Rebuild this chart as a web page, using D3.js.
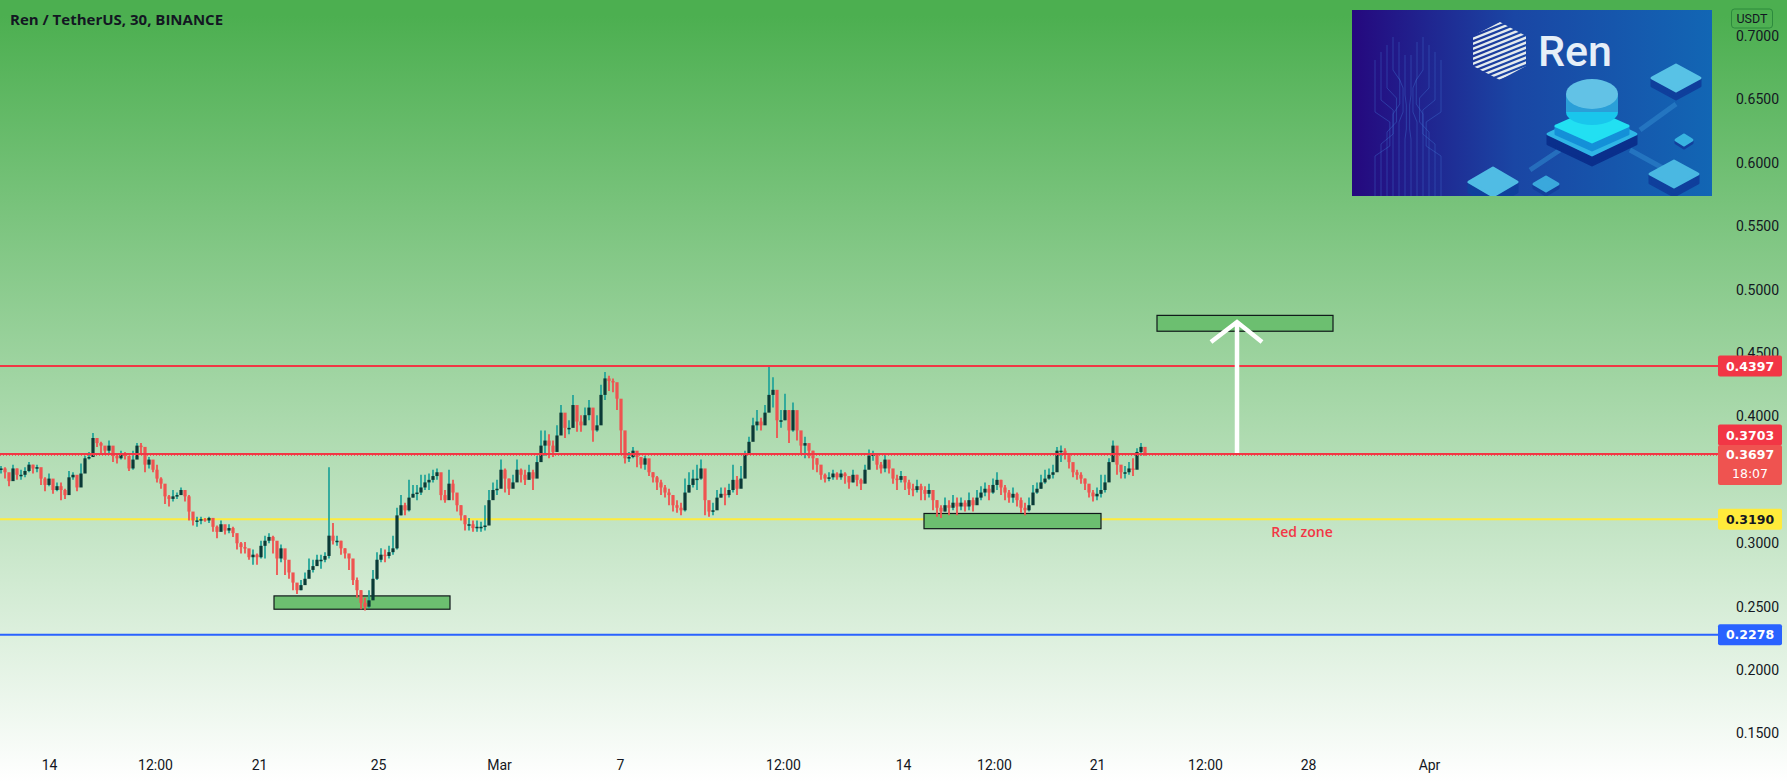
<!DOCTYPE html>
<meta charset="utf-8">
<style type="text/css">
body { margin: 0; background: #fff; }
svg { display: block; }
text { font-family: Roboto, "Noto Sans", Arial, sans-serif; }
.axis text { font-size: 14px; fill: #131722; }
.axis path { display: none; }
.tag { font-family: "DejaVu Sans", sans-serif; font-size: 12.5px; font-weight: bold; text-anchor: middle; }
.label { font-family: "Open Sans", sans-serif; }
</style>
<body>
<svg id="svg" width="1787" height="782"></svg>
<script src="https://cdn.jsdelivr.net/npm/d3@7"></script>
<script>
// candles, in thousandths of a USDT. Open is the previous close.
const closes = [
  359,356,349,359,354,354,357,362,359,360,351,346,351,342,345,342,338,352,354,344,
  355,367,368,383,379,377,373,377,369,367,371,369,359,366,377,376,362,366,358,351,
  347,337,335,337,338,342,337,325,318,318,319,318,320,313,309,315,310,312,308,300,
  297,296,289,291,289,298,302,305,302,288,296,287,277,269,263,267,272,279,282,287,
  287,290,306,302,302,296,292,288,271,263,253,250,255,272,287,291,290,293,296,322,
  330,326,336,339,340,344,348,350,353,356,338,334,347,340,330,322,315,315,312,313,
  313,314,334,342,343,358,351,343,348,358,354,350,356,351,364,377,381,377,372,385,
  403,391,391,409,396,393,401,407,389,393,417,430,428,427,414,389,367,368,373,368,
  362,367,356,352,348,344,340,338,330,328,326,340,346,351,351,359,334,325,326,336,
  339,338,342,350,343,351,370,380,393,396,393,403,417,421,397,397,405,389,405,389,
  377,379,373,367,362,354,351,352,355,352,355,353,348,354,350,347,358,369,370,362,
  359,366,359,351,350,353,348,343,342,345,342,339,342,334,328,325,330,328,332,329,
  332,329,334,330,336,340,343,340,346,350,344,340,336,339,334,328,326,330,340,343,
  348,351,354,356,373,373,371,364,356,354,351,347,340,337,339,342,348,364,377,362,
  356,356,359,358,372,376,370];
const highs = [
  361,360,354,362,359,358,360,364,362,362,358,352,355,347,348,348,343,357,356,351,
  363,369,372,387,383,380,376,381,373,371,373,372,366,373,379,379,370,368,360,362,
  352,342,338,342,340,344,342,338,321,321,321,320,321,317,314,318,313,315,313,306,
  301,301,293,295,292,302,306,308,306,298,299,291,283,275,267,271,277,288,287,291,
  291,293,360,316,306,302,296,291,283,273,263,257,263,279,293,296,295,298,306,328,
  338,332,350,346,346,354,354,355,358,359,350,342,358,350,338,330,322,320,318,318,
  317,330,342,348,350,366,359,351,354,366,359,358,362,358,369,389,389,386,381,393,
  409,401,397,417,407,401,407,413,396,401,425,435,432,430,419,397,371,372,376,372,
  367,369,362,356,353,350,346,343,338,334,332,351,356,358,362,366,354,330,332,342,
  344,344,347,362,353,361,373,384,399,405,399,409,439,431,409,405,418,405,411,396,
  381,384,377,373,367,360,355,356,358,356,358,356,352,358,354,351,362,374,373,367,
  364,370,364,355,354,357,353,350,347,350,347,345,347,340,334,330,336,334,338,336,
  336,334,340,336,342,345,348,346,351,356,350,346,342,344,340,336,332,336,346,348,
  354,358,359,362,376,377,375,369,362,358,356,351,346,342,344,354,354,367,381,367,
  361,361,364,367,375,379,372];
const lows = [
  355,351,345,352,350,350,352,356,355,356,346,341,345,339,341,334,335,338,350,341,
  349,362,366,376,376,371,371,371,364,363,366,366,357,358,370,370,356,359,356,348,
  343,331,329,333,335,338,333,318,314,313,315,317,316,309,304,312,307,308,305,295,
  292,292,287,283,283,288,288,300,292,275,285,275,272,263,260,263,268,275,277,282,
  280,285,288,299,298,291,288,279,267,257,248,247,249,259,271,285,285,288,291,295,
  322,322,325,336,334,338,342,342,348,350,334,332,342,334,325,318,310,310,309,309,
  309,310,326,336,338,348,340,338,344,350,348,346,351,342,354,367,369,367,368,377,
  389,383,386,397,388,388,393,397,380,388,405,413,420,419,405,371,363,364,367,360,
  359,358,353,348,342,338,336,330,325,324,322,325,340,344,342,350,322,321,322,328,
  336,330,336,340,338,344,358,373,381,389,389,396,409,407,383,391,397,379,388,381,
  371,367,367,358,356,350,348,349,350,350,350,347,343,348,345,342,348,362,365,358,
  355,356,355,347,342,348,342,338,337,340,334,334,336,326,321,320,325,322,326,322,
  326,325,326,325,331,334,337,334,339,342,338,334,332,332,329,324,322,325,334,339,
  343,347,350,351,358,364,366,359,352,350,347,342,336,333,334,336,340,351,367,354,
  351,351,354,353,364,369,369];

const priceTicks = [0.15, 0.2, 0.25, 0.3, 0.35, 0.4, 0.45, 0.5, 0.55, 0.6, 0.65, 0.7];
// time labels and the bar they sit under
const timeLabels = ["14", "12:00", "21", "25", "Mar", "7", "12:00", "14", "12:00", "21", "12:00", "28", "Apr"];
const timeBars = [12, 38.5, 64.5, 94.25, 124.5, 154.75, 195.5, 225.5, 248.25, 274, 301, 326.75, 357];

const levelPrices = [0.4397, 0.3703, 0.319, 0.2278];
const levelColors = ["#f23645", "#f23645", "#ffeb3b", "#2962ff"];
const lastPrice = 0.3697;

// green boxes: first bar, last bar, top price, bottom price
const boxBars = [[68.25, 112.25], [230.75, 275], [289, 333]];
const boxPrices = [[0.2585, 0.2480], [0.3235, 0.3115], [0.4797, 0.4672]];

const svg = d3.select("#svg");
const width = 1787, height = 782, paneRight = 1718;

const x = d3.scaleLinear().domain([0, 440]).range([1, 1761]);
const y = d3.scaleLinear().domain([0.15, 0.7]).range([733.5, 36]);

const defs = svg.append("defs");
const bg = defs.append("linearGradient").attr("id", "bg").attr("x1", 0).attr("x2", 0).attr("y1", 0).attr("y2", 1);
bg.append("stop").attr("offset", 0.02).attr("stop-color", "#4caf50");
bg.append("stop").attr("offset", 1).attr("stop-color", "#ffffff");
svg.append("rect").attr("width", width).attr("height", height).attr("fill", "url(#bg)");

function drawLevels(list) {
  svg.selectAll(".level" + list[0]).data(list).enter().append("line")
    .attr("x1", 0).attr("x2", paneRight)
    .attr("y1", i => y(levelPrices[i])).attr("y2", i => y(levelPrices[i]))
    .attr("stroke", i => levelColors[i])
    .attr("stroke-width", 2);
}

// yellow and blue sit under the boxes, the red ones on top of the candles
drawLevels([2, 3]);

svg.selectAll(".box").data(boxBars).enter().append("rect")
  .attr("class", "box")
  .attr("x", d => x(d[0]))
  .attr("width", d => x(d[1]) - x(d[0]))
  .attr("y", (d, i) => y(boxPrices[i][0]))
  .attr("height", (d, i) => y(boxPrices[i][1]) - y(boxPrices[i][0]))
  .attr("fill", "#6cbf70")
  .attr("stroke", "#10181a")
  .attr("stroke-width", 1.2);

// candles
const bars = closes.map((c, i) => ({
  i: i,
  open: (i ? closes[i - 1] : c) / 1000,
  close: c / 1000,
  high: highs[i] / 1000,
  low: lows[i] / 1000
}));
const candle = svg.append("g").selectAll("g").data(bars).enter().append("g");
candle.append("line")
  .attr("x1", d => x(d.i)).attr("x2", d => x(d.i))
  .attr("y1", d => y(d.high)).attr("y2", d => y(d.low))
  .attr("stroke", d => d.close >= d.open ? "#26a69a" : "#ef5350")
  .attr("stroke-width", 1.8);
candle.append("rect")
  .attr("x", d => x(d.i) - 1.6)
  .attr("width", 3.2)
  .attr("y", d => y(Math.max(d.open, d.close)))
  .attr("height", d => Math.max(1.5, Math.abs(y(d.open) - y(d.close))))
  .attr("fill", d => d.close >= d.open ? "#0b3a37" : "#ef5350");

drawLevels([0, 1]);
svg.append("line")
  .attr("x1", 0).attr("x2", paneRight)
  .attr("y1", y(lastPrice) + 0.5).attr("y2", y(lastPrice) + 0.5)
  .attr("stroke", "#ef5350")
  .attr("stroke-dasharray", "1 2");

// arrow
svg.append("path")
  .attr("d", "M1237,453V322M1211,342L1237,322L1262,342")
  .attr("fill", "none")
  .attr("stroke", "#fff")
  .attr("stroke-width", 4.5);

svg.append("text").attr("class", "label")
  .attr("x", 1302).attr("y", 537)
  .attr("text-anchor", "middle")
  .attr("font-size", 14).attr("font-weight", 600)
  .attr("fill", "#f23645")
  .text("Red zone");

svg.append("text").attr("class", "label")
  .attr("x", 10).attr("y", 25)
  .attr("font-size", 15).attr("font-weight", 700)
  .attr("fill", "#131722")
  .text("Ren / TetherUS, 30, BINANCE");

// axes
svg.append("g").attr("class", "axis")
  .attr("transform", "translate(1736,0)")
  .call(d3.axisRight(y).tickValues(priceTicks).tickSize(0).tickPadding(0).tickFormat(d3.format(".4f")));
svg.append("g").attr("class", "axis")
  .attr("transform", "translate(0,757)")
  .call(d3.axisBottom(x).tickValues(timeBars).tickSize(0).tickFormat((d, i) => timeLabels[i]));

// price tags on the right
const tagText = ["0.4397", "0.3703", "0.3190", "0.2278"];
const tagFill = ["#fff", "#fff", "#131722", "#fff"];
const tagShift = [0, -19, 0, 0];
const tag = svg.selectAll(".pricetag").data(levelPrices).enter().append("g").attr("class", "pricetag")
  .attr("transform", (d, i) => "translate(1718," + (y(d) + tagShift[i]) + ")");
tag.append("rect").attr("y", -10.5).attr("width", 64).attr("height", 21).attr("rx", 2)
  .attr("fill", (d, i) => levelColors[i]);
tag.append("text").attr("class", "tag").attr("x", 32).attr("y", 4.5)
  .attr("fill", (d, i) => tagFill[i])
  .text((d, i) => tagText[i]);

const last = svg.append("g").attr("transform", "translate(1718," + y(lastPrice) + ")");
last.append("rect").attr("y", -10).attr("width", 64).attr("height", 40).attr("rx", 2).attr("fill", "#ef5350");
last.append("text").attr("class", "tag").attr("x", 32).attr("y", 4.5).attr("fill", "#fff").text("0.3697");
last.append("text").attr("class", "tag").attr("x", 32).attr("y", 23).attr("fill", "#fff")
  .style("font-weight", "normal").text("18:07");

// currency button
svg.append("rect").attr("x", 1731.5).attr("y", 9).attr("width", 41).attr("height", 19).attr("rx", 3)
  .attr("fill", "none").attr("stroke", "#1f7a35").attr("stroke-opacity", 0.7);
svg.append("text").attr("x", 1752).attr("y", 23).attr("text-anchor", "middle")
  .attr("font-size", 12.5).attr("fill", "#131722").text("USDT");

// logo picture in the corner, drawn by hand
const logo = svg.append("g");
const logoBg = defs.append("linearGradient").attr("id", "logoBg");
logoBg.append("stop").attr("offset", 0).attr("stop-color", "#25087e");
logoBg.append("stop").attr("offset", 0.45).attr("stop-color", "#1a46a4");
logoBg.append("stop").attr("offset", 1).attr("stop-color", "#1266b4");
defs.append("clipPath").attr("id", "logoClip").append("rect")
  .attr("x", 1352).attr("y", 10).attr("width", 360).attr("height", 186);
logo.attr("clip-path", "url(#logoClip)");
logo.append("rect").attr("x", 1352).attr("y", 10).attr("width", 360).attr("height", 186).attr("fill", "url(#logoBg)");

// circuit traces, mirrored about the middle of the board
const traceOffsets = [3, 9, 15, 21, 27, 33];
const traceTops = [55, 42, 37, 45, 52, 60];
const traceKnees = [95, 78, 70, 88, 100, 112];
traceOffsets.forEach((d, k) => {
  [-1, 1].forEach(side => {
    const cx = 1408, far = cx + side * d, near = cx + side * (d * 0.55);
    logo.append("path")
      .attr("d", "M" + far + "," + traceTops[k] + "V" + traceKnees[k] + "L" + near + "," + (traceKnees[k] + 10)
        + "V" + (traceKnees[k] + 34) + "L" + far + "," + (traceKnees[k] + 44) + "V196")
      .attr("fill", "none").attr("stroke", "#3f6fd0").attr("stroke-opacity", 0.42).attr("stroke-width", 1);
  });
});

// striped hexagon
const hexClip = defs.append("clipPath").attr("id", "hexClip");
hexClip.append("path").attr("d", "M1500,22L1526,36V66L1500,80L1473,66V36Z");
const hex = logo.append("g").attr("clip-path", "url(#hexClip)");
d3.range(16, 92, 5).forEach(sy => {
  hex.append("line").attr("x1", 1470).attr("x2", 1530).attr("y1", sy + 14).attr("y2", sy - 10)
    .attr("stroke", "#e4ebee").attr("stroke-width", 2.4);
});
logo.append("text").attr("x", 1538).attr("y", 66).attr("font-size", 43).attr("font-weight", 500)
  .attr("fill", "#e6eff8").text("Ren");

// isometric tile: top diamond and a darker side
function tile(cx, cy, w, h, depth, top, side) {
  logo.append("path")
    .attr("d", `M${cx - w},${cy}L${cx},${cy + h}L${cx + w},${cy}V${cy + depth}L${cx},${cy + h + depth}L${cx - w},${cy + depth}Z`)
    .attr("fill", side).attr("stroke", side).attr("stroke-width", 3).attr("stroke-linejoin", "round");
  logo.append("path")
    .attr("d", `M${cx - w},${cy}L${cx},${cy - h}L${cx + w},${cy}L${cx},${cy + h}Z`)
    .attr("fill", top).attr("stroke", top).attr("stroke-width", 3).attr("stroke-linejoin", "round");
}
logo.append("path").attr("d", "M1640,130L1676,104M1530,170L1560,150M1630,150L1670,172")
  .attr("stroke", "#2f86cc").attr("stroke-opacity", 0.6).attr("stroke-width", 5).attr("fill", "none");

tile(1592, 134, 44, 21, 10, "#2fb6e6", "#0a2f8c");
tile(1592, 126, 36, 16, 8, "#22e0f2", "#1490d8");
logo.append("ellipse").attr("cx", 1592).attr("cy", 112).attr("rx", 26).attr("ry", 13).attr("fill", "#19c6ec");
logo.append("rect").attr("x", 1566).attr("y", 94).attr("width", 52).attr("height", 18).attr("fill", "#2a9fd8");
logo.append("ellipse").attr("cx", 1592).attr("cy", 94).attr("rx", 26).attr("ry", 15).attr("fill", "#62c2e6");

tile(1676, 78, 24, 13, 8, "#58c2e6", "#0f3f9c");
tile(1684, 140, 8, 5, 3, "#38b4e0", "#123f9c");
tile(1493, 182, 24, 14, 10, "#50bce4", "#0f3f9c");
tile(1546, 184, 12, 7, 4, "#3aa8dc", "#123f9c");
tile(1674, 174, 24, 13, 9, "#4ab8e2", "#0f3f9c");
</script>
</body>
